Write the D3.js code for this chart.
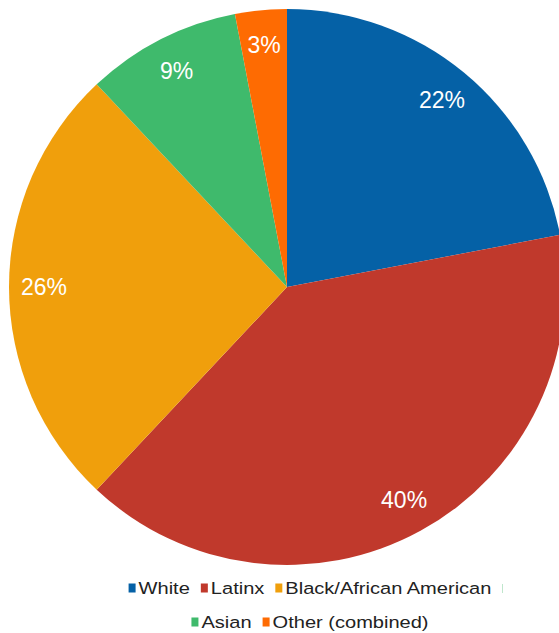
<!DOCTYPE html>
<html>
<head>
<meta charset="utf-8">
<script src="https://cdn.jsdelivr.net/npm/d3@7"></script>
<style>
  html, body { margin: 0; padding: 0; background: #fff; }
  svg { display: block; }
  text { font-family: "Liberation Sans", Arial, sans-serif; }
</style>
</head>
<body>
<svg id="chart" width="559" height="633"></svg>
<script>
const categories = ["White", "Latinx", "Black/African American", "Asian", "Other (combined)"];
const values = [22, 40, 26, 9, 3];
const labels = ["22%", "40%", "26%", "9%", "3%"];
const colors = ["#0561a6", "#c0392c", "#f09f0c", "#3fba6c", "#fe6b02"];
const legendRows = [[0, 1, 2], [3, 4]];

const W = 559, H = 633;
const cx = 287, cy = 287, R = 278;
const svg = d3.select("#chart");

const color = d3.scaleOrdinal().domain(categories).range(colors);
const pie = d3.pie().sort(null).value(d => d.value);
const data = categories.map((c, i) => ({ cat: c, value: values[i], label: labels[i] }));
const arcs = pie(data);

const arc = d3.arc().innerRadius(0).outerRadius(R);
const labelArc = d3.arc().innerRadius(243).outerRadius(243);

const g = svg.append("g").attr("transform", `translate(${cx},${cy})`);
g.selectAll("path.slice").data(arcs).enter().append("path")
  .attr("class", "slice")
  .attr("d", arc)
  .attr("fill", d => color(d.data.cat));

g.selectAll("text.lbl").data(arcs).enter().append("text")
  .attr("class", "lbl")
  .attr("transform", d => `translate(${labelArc.centroid(d)})`)
  .attr("text-anchor", "middle")
  .attr("dy", "0.36em")
  .attr("fill", "#fff")
  .attr("font-size", 23)
  .text(d => d.data.label);

// Legend (text appears horizontally stretched in the reference)
const fs = 17, sx = 1.18, sqW = 7, sqH = 9, gapSq = 3, gapItem = 11;
const rowY = [588, 622];
const legendCenter = 310;
legendRows.forEach((row, ri) => {
  const lg = svg.append("g");
  let x = 0;
  row.forEach(i => {
    const item = lg.append("g").attr("transform", `translate(${x},0)`);
    item.append("rect").attr("x", 0).attr("y", -sqH / 2).attr("width", sqW).attr("height", sqH)
      .attr("fill", colors[i]);
    const t = item.append("text")
      .attr("transform", `translate(${sqW + gapSq},0) scale(${sx},1)`)
      .attr("dy", "0.35em")
      .attr("font-size", fs).attr("fill", "#222").text(categories[i]);
    const w = t.node().getComputedTextLength() * sx;
    x += sqW + gapSq + w + gapItem;
  });
  const total = x - gapItem;
  lg.attr("transform", `translate(${legendCenter - total / 2},${rowY[ri]})`);
});
// clipped legend marker remnant at end of first row
svg.append("rect").attr("x", 502).attr("y", 584).attr("width", 1).attr("height", 9).attr("fill", "#bfe6cc");
</script>
</body>
</html>
